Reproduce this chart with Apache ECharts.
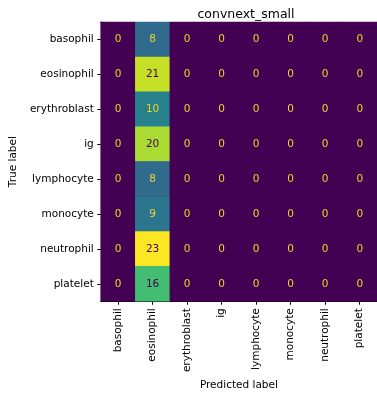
<!DOCTYPE html>
<html><head><meta charset="utf-8">
<script src="https://cdn.jsdelivr.net/npm/echarts@6/dist/echarts.min.js"></script>
<style>html,body{margin:0;padding:0;background:#fff}#c{width:377px;height:396px}</style>
</head><body><div id="c"></div>
<script>
const categories = ["basophil","eosinophil","erythroblast","ig","lymphocyte","monocyte","neutrophil","platelet"];
const matrix = [
  [0, 8, 0,0,0,0,0,0],
  [0,21, 0,0,0,0,0,0],
  [0,10, 0,0,0,0,0,0],
  [0,20, 0,0,0,0,0,0],
  [0, 8, 0,0,0,0,0,0],
  [0, 9, 0,0,0,0,0,0],
  [0,23, 0,0,0,0,0,0],
  [0,16, 0,0,0,0,0,0]
];
const viridis = ['#440154','#482475','#414487','#355f8d','#2a788e','#21918c','#22a884','#44bf70','#7ad151','#bddf26','#fde725'];
let vmax = 0, vmin = Infinity;
matrix.forEach(r => r.forEach(v => { vmax = Math.max(vmax, v); vmin = Math.min(vmin, v); }));
const thresh = (vmax + vmin) / 2;
const data = [];
matrix.forEach((row, i) => row.forEach((v, j) => {
  data.push({ value: [j, i, v], label: { color: v < thresh ? '#f0d42a' : '#440154' } });
}));
const font = 'DejaVu Sans';
const fs = 10.5;
const chart = echarts.init(document.getElementById('c'));
chart.setOption({
  animation: false,
  title: { text: 'convnext_small', left: 241, top: 3, textAlign: 'center',
    textStyle: { fontFamily: font, fontSize: 12.5, fontWeight: 'normal', color: '#000' } },
  grid: { left: 100, top: 22, width: 282, height: 282, show: true, backgroundColor: '#440154', borderWidth: 0 },
  xAxis: [{
    type: 'category', data: categories, position: 'bottom',
    name: 'Predicted label', nameLocation: 'middle', nameGap: 77,
    nameTextStyle: { fontFamily: font, fontSize: fs, color: '#000' },
    axisLine: { show: true, lineStyle: { color: '#000', width: 1 } },
    axisTick: { show: true, alignWithLabel: true, length: 3.5, lineStyle: { color: '#000' } },
    axisLabel: { rotate: 90, fontFamily: font, fontSize: fs, color: '#000', margin: 7, interval: 0 },
    splitLine: { show: false }
  }, {
    type: 'category', data: categories, position: 'top',
    axisLine: { show: true, lineStyle: { color: '#000', width: 1 } },
    axisTick: { show: false }, axisLabel: { show: false }
  }],
  yAxis: {
    type: 'category', data: categories, inverse: true,
    name: 'True label', nameLocation: 'middle', nameGap: 72, nameRotate: 90,
    nameTextStyle: { fontFamily: font, fontSize: fs, color: '#000' },
    axisLine: { show: true, lineStyle: { color: '#000', width: 1 } },
    axisTick: { show: true, alignWithLabel: true, length: 3.5, lineStyle: { color: '#000' } },
    axisLabel: { fontFamily: font, fontSize: fs, color: '#000', margin: 7, interval: 0 },
    splitLine: { show: false }
  },
  visualMap: { show: false, min: vmin, max: vmax, dimension: 2, inRange: { color: viridis } },
  series: [{
    type: 'heatmap', data: data,
    label: { show: true, fontFamily: font, fontSize: fs },
    itemStyle: { borderWidth: 0 },
    emphasis: { disabled: true }
  }]
});
</script></body></html>
